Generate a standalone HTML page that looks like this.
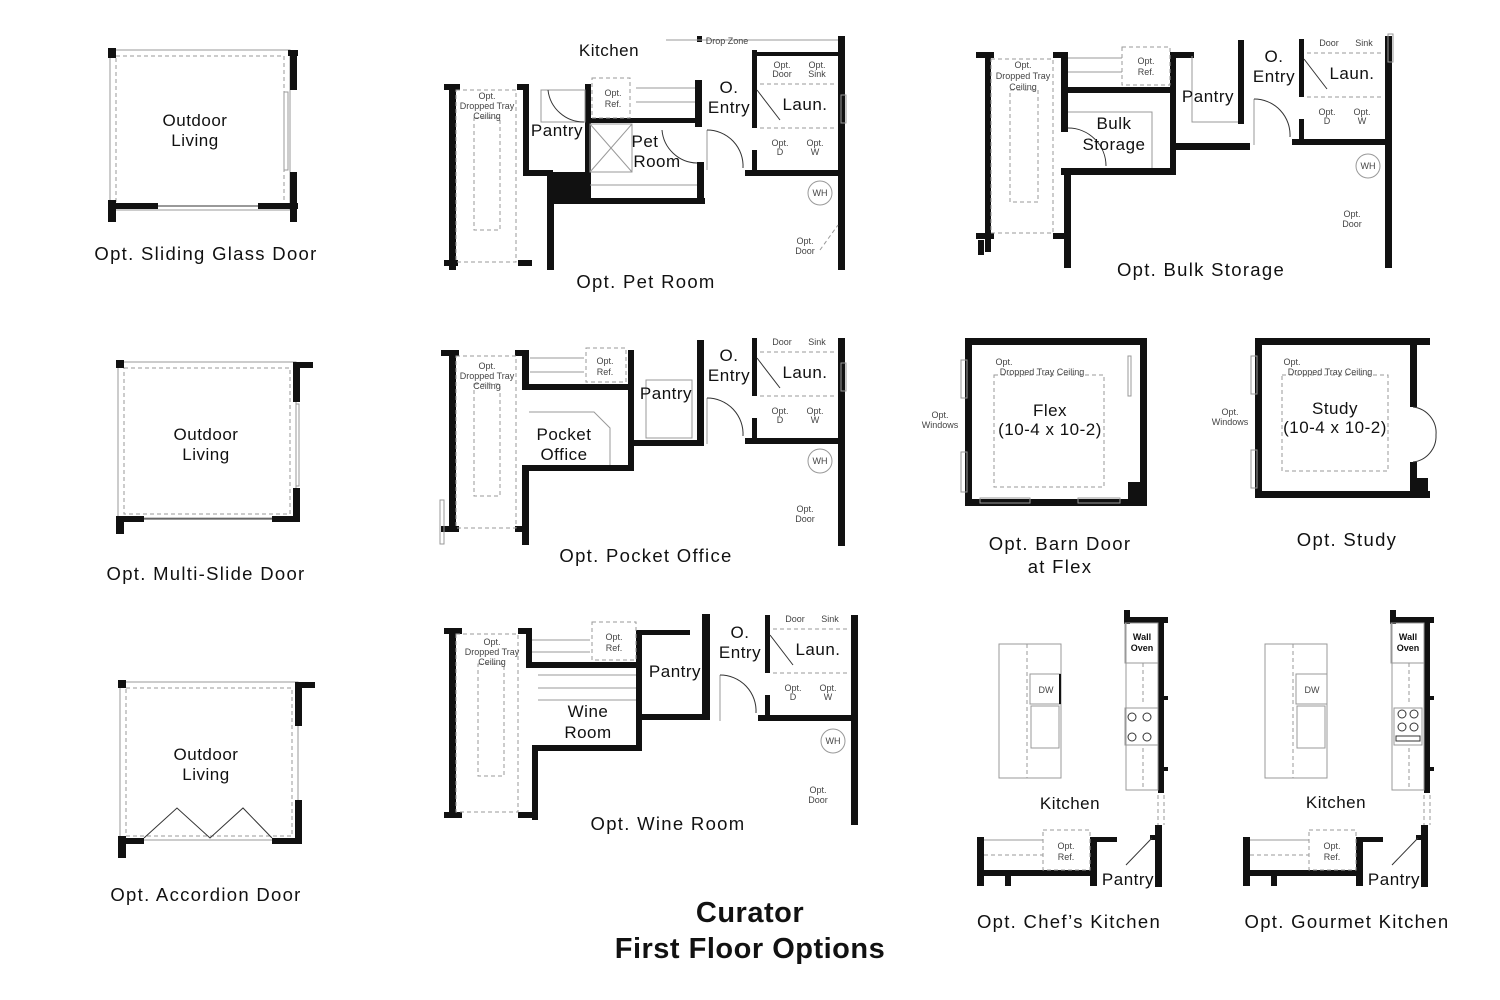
<!DOCTYPE html>
<html><head><meta charset="utf-8"><style>
html,body{margin:0;padding:0;background:#fff;}
svg{display:block;}
text{font-family:"Liberation Sans",sans-serif;fill:#111;text-anchor:middle;}
.cap{font-size:18.5px;letter-spacing:1.3px;}
.rm{font-size:17px;letter-spacing:0.5px;}
.sm{font-size:9px;fill:#444;}
.ttl{font-size:29px;font-weight:bold;letter-spacing:0.5px;}
.w{fill:#111;}
.g{fill:none;stroke:#999;stroke-width:1;}
.d{fill:none;stroke:#999;stroke-width:1;stroke-dasharray:4,3;}
.t{fill:none;stroke:#333;stroke-width:1;}
</style></head><body>
<svg width="1500" height="1000" viewBox="0 0 1500 1000" xmlns="http://www.w3.org/2000/svg">
<!-- Outdoor living 1 -->
<g>
<rect class="g" x="110" y="50" width="180" height="160"/>
<rect class="d" x="116" y="56" width="168" height="150"/>
<rect class="w" x="108" y="48" width="8" height="10"/>
<rect class="w" x="108" y="200" width="8" height="22"/>
<rect class="w" x="108" y="203" width="50" height="6"/>
<rect class="w" x="258" y="203" width="40" height="6"/>
<rect class="w" x="288" y="50" width="10" height="6"/>
<rect class="w" x="290" y="50" width="7" height="40"/>
<rect class="w" x="290" y="172" width="7" height="50"/>
<rect class="g" x="284" y="92" width="4" height="78"/>
<line class="t" x1="158" y1="206" x2="258" y2="206"/>
<text class="rm" x="195" y="126">Outdoor</text><text class="rm" x="195" y="146">Living</text>
<text class="cap" x="206" y="260">Opt. Sliding Glass Door</text>
</g>
<!-- Outdoor living 2 -->
<g>
<rect class="g" x="118" y="362" width="178" height="156"/>
<rect class="d" x="124" y="368" width="166" height="146"/>
<rect class="w" x="116" y="360" width="8" height="8"/>
<rect class="w" x="116" y="516" width="8" height="18"/>
<rect class="w" x="116" y="516" width="28" height="6"/>
<rect class="w" x="272" y="516" width="26" height="6"/>
<rect class="w" x="293" y="362" width="7" height="40"/>
<rect class="w" x="293" y="488" width="7" height="34"/>
<rect class="w" x="293" y="362" width="20" height="6"/>
<line class="t" x1="144" y1="519" x2="272" y2="519"/>
<rect class="g" x="296" y="404" width="3" height="82"/>
<text class="rm" x="206" y="440">Outdoor</text><text class="rm" x="206" y="460">Living</text>
<text class="cap" x="206" y="580">Opt. Multi-Slide Door</text>
</g>
<!-- Outdoor living 3 -->
<g>
<rect class="g" x="120" y="682" width="178" height="158"/>
<rect class="d" x="126" y="688" width="166" height="148"/>
<rect class="w" x="118" y="680" width="8" height="8"/>
<rect class="w" x="118" y="836" width="8" height="22"/>
<rect class="w" x="118" y="838" width="26" height="6"/>
<rect class="w" x="272" y="838" width="26" height="6"/>
<rect class="w" x="295" y="682" width="7" height="44"/>
<rect class="w" x="295" y="800" width="7" height="44"/>
<rect class="w" x="295" y="682" width="20" height="6"/>
<polyline class="t" points="144,838 177,808 210,838 243,808 272,838"/>
<text class="rm" x="206" y="760">Outdoor</text><text class="rm" x="206" y="780">Living</text>
<text class="cap" x="206" y="901">Opt. Accordion Door</text>
</g>

<!-- Pet Room plan -->
<g>
<rect class="w" x="444" y="84" width="16" height="6"/>
<rect class="w" x="517" y="84" width="12" height="6"/>
<rect class="w" x="449" y="84" width="7" height="186"/>
<rect class="w" x="523" y="84" width="6" height="92"/>
<rect class="w" x="523" y="170" width="30" height="6"/>
<rect class="w" x="547" y="172" width="7" height="98"/>
<rect class="w" x="444" y="260" width="14" height="6"/>
<rect class="w" x="518" y="260" width="14" height="6"/>
<rect class="w" x="585" y="84" width="6" height="90"/>
<rect class="w" x="547" y="172" width="44" height="30"/>
<rect class="w" x="547" y="198" width="158" height="6"/>
<rect class="w" x="697" y="162" width="7" height="42"/>
<rect class="w" x="588" y="118" width="114" height="5"/>
<rect class="w" x="695" y="80" width="7" height="47"/>
<rect class="w" x="697" y="36" width="5" height="6"/>
<rect class="d" x="456" y="90" width="60" height="172"/>
<rect class="d" x="474" y="118" width="26" height="112"/>
<rect class="g" x="541" y="90" width="44" height="32"/>
<rect class="d" x="592" y="78" width="38" height="40"/>
<line class="g" x1="636" y1="88" x2="695" y2="88"/><line class="g" x1="636" y1="102" x2="695" y2="102"/>
<rect class="g" x="590" y="124" width="42" height="48"/>
<line class="g" x1="590" y1="124" x2="632" y2="172"/><line class="g" x1="632" y1="124" x2="590" y2="172"/>
<line class="g" x1="590" y1="185" x2="697" y2="185"/>
<line class="g" x1="666" y1="40" x2="840" y2="40"/>
<text class="sm" x="727" y="44">Drop Zone</text>
<text class="rm" x="609" y="56">Kitchen</text>
<text class="sm" x="487" y="99">Opt.</text><text class="sm" x="487" y="109">Dropped Tray</text><text class="sm" x="487" y="119">Ceiling</text>
<text class="sm" x="613" y="96">Opt.</text><text class="sm" x="613" y="107">Ref.</text>
<text class="rm" x="557" y="136">Pantry</text>
<text class="rm" x="645" y="147">Pet</text><text class="rm" x="657" y="167">Room</text>
<path class="t" d="M548,90 A36,36 0 0 0 584,122"/>
<path class="t" d="M662,130 A36,36 0 0 0 697,163"/>
<text class="cap" x="646" y="288">Opt. Pet Room</text>
</g>
<g>
<rect class="w" x="752" y="50" width="5" height="78"/>
<rect class="w" x="752" y="52" width="90" height="4"/>
<rect class="w" x="838" y="36" width="7" height="234"/>
<rect class="w" x="745" y="170" width="100" height="6"/>
<rect class="w" x="752" y="150" width="5" height="22"/>
<rect class="g" x="841" y="95" width="5" height="28"/>
<line class="g" x1="707" y1="130" x2="707" y2="170"/>
<path class="t" d="M707,130 A36,36 0 0 1 743,168"/>
<line class="t" x1="757" y1="90" x2="780" y2="120"/>
<line class="d" x1="760" y1="84" x2="836" y2="84"/>
<line class="d" x1="760" y1="128" x2="836" y2="128"/>
<text class="rm" x="729" y="93">O.</text><text class="rm" x="729" y="113">Entry</text>
<text class="rm" x="805" y="110">Laun.</text>
<text class="sm" x="782" y="68">Opt.</text><text class="sm" x="782" y="77">Door</text>
<text class="sm" x="817" y="68">Opt.</text><text class="sm" x="817" y="77">Sink</text>
<text class="sm" x="780" y="146">Opt.</text><text class="sm" x="780" y="155">D</text>
<text class="sm" x="815" y="146">Opt.</text><text class="sm" x="815" y="155">W</text>
<circle class="g" cx="820" cy="193" r="12"/><text class="sm" x="820" y="196">WH</text>
<text class="sm" x="805" y="244">Opt.</text><text class="sm" x="805" y="254">Door</text>
<line class="d" x1="820" y1="250" x2="838" y2="225"/>
</g>

<!-- Pocket office plan -->
<g>
<rect class="w" x="441" y="350" width="18" height="6"/>
<rect class="w" x="515" y="350" width="14" height="6"/>
<rect class="w" x="449" y="350" width="7" height="180"/>
<rect class="w" x="522" y="350" width="7" height="40"/>
<rect class="w" x="522" y="384" width="112" height="6"/>
<rect class="w" x="628" y="350" width="6" height="120"/>
<rect class="w" x="522" y="465" width="112" height="6"/>
<rect class="w" x="522" y="465" width="7" height="80"/>
<rect class="w" x="441" y="526" width="18" height="6"/>
<rect class="w" x="515" y="526" width="14" height="6"/>
<rect class="w" x="697" y="340" width="7" height="106"/>
<rect class="w" x="634" y="440" width="70" height="6"/>
<rect class="d" x="456" y="356" width="60" height="172"/>
<rect class="d" x="474" y="384" width="26" height="112"/>
<rect class="d" x="586" y="348" width="40" height="34"/>
<line class="g" x1="530" y1="358" x2="584" y2="358"/><line class="g" x1="530" y1="372" x2="584" y2="372"/>
<polyline class="g" points="529,412 594,412 610,428 610,465"/>
<rect class="g" x="646" y="380" width="46" height="58"/>
<rect class="g" x="440" y="500" width="4" height="44"/>
<text class="sm" x="487" y="369">Opt.</text><text class="sm" x="487" y="379">Dropped Tray</text><text class="sm" x="487" y="389">Ceiling</text>
<text class="sm" x="605" y="364">Opt.</text><text class="sm" x="605" y="375">Ref.</text>
<text class="rm" x="564" y="440">Pocket</text><text class="rm" x="564" y="460">Office</text>
<text class="rm" x="666" y="399">Pantry</text>
<text class="cap" x="646" y="562">Opt. Pocket Office</text>
</g>
<g transform="translate(0,268)">
<rect class="w" x="752" y="70" width="5" height="58"/>
<rect class="w" x="838" y="70" width="7" height="208"/>
<rect class="w" x="745" y="170" width="100" height="6"/>
<rect class="w" x="752" y="150" width="5" height="22"/>
<rect class="g" x="841" y="95" width="5" height="28"/>
<line class="g" x1="707" y1="130" x2="707" y2="176"/>
<path class="t" d="M707,130 A36,36 0 0 1 743,168"/>
<line class="t" x1="757" y1="90" x2="780" y2="120"/>
<line class="d" x1="760" y1="84" x2="836" y2="84"/>
<line class="d" x1="760" y1="128" x2="836" y2="128"/>
<text class="rm" x="729" y="93">O.</text><text class="rm" x="729" y="113">Entry</text>
<text class="rm" x="805" y="110">Laun.</text>
<text class="sm" x="782" y="77">Door</text><text class="sm" x="817" y="77">Sink</text>
<text class="sm" x="780" y="146">Opt.</text><text class="sm" x="780" y="155">D</text>
<text class="sm" x="815" y="146">Opt.</text><text class="sm" x="815" y="155">W</text>
<circle class="g" cx="820" cy="193" r="12"/><text class="sm" x="820" y="196">WH</text>
<text class="sm" x="805" y="244">Opt.</text><text class="sm" x="805" y="254">Door</text>
</g>

<!-- Wine room plan -->
<g>
<rect class="w" x="444" y="628" width="18" height="6"/>
<rect class="w" x="518" y="628" width="14" height="6"/>
<rect class="w" x="449" y="628" width="7" height="190"/>
<rect class="w" x="526" y="628" width="6" height="40"/>
<rect class="w" x="526" y="662" width="116" height="6"/>
<rect class="w" x="636" y="630" width="6" height="90"/>
<rect class="w" x="636" y="714" width="72" height="6"/>
<rect class="w" x="532" y="745" width="110" height="6"/>
<rect class="w" x="636" y="715" width="6" height="36"/>
<rect class="w" x="532" y="745" width="6" height="75"/>
<rect class="w" x="444" y="812" width="18" height="6"/>
<rect class="w" x="518" y="812" width="14" height="6"/>
<rect class="w" x="702" y="614" width="8" height="106"/>
<rect class="w" x="640" y="630" width="50" height="5"/>
<rect class="d" x="456" y="634" width="62" height="178"/>
<rect class="d" x="478" y="664" width="26" height="112"/>
<rect class="d" x="592" y="622" width="44" height="38"/>
<line class="g" x1="532" y1="640" x2="590" y2="640"/><line class="g" x1="532" y1="652" x2="590" y2="652"/>
<line class="g" x1="538" y1="675" x2="636" y2="675"/><line class="g" x1="538" y1="688" x2="636" y2="688"/><line class="g" x1="538" y1="700" x2="636" y2="700"/>
<text class="sm" x="492" y="645">Opt.</text><text class="sm" x="492" y="655">Dropped Tray</text><text class="sm" x="492" y="665">Ceiling</text>
<text class="sm" x="614" y="640">Opt.</text><text class="sm" x="614" y="651">Ref.</text>
<text class="rm" x="588" y="717">Wine</text><text class="rm" x="588" y="738">Room</text>
<text class="rm" x="675" y="677">Pantry</text>
<text class="cap" x="668" y="830">Opt. Wine Room</text>
</g>
<g transform="translate(13,545)">
<rect class="w" x="752" y="70" width="5" height="58"/>
<rect class="w" x="838" y="70" width="7" height="210"/>
<rect class="w" x="745" y="170" width="100" height="6"/>
<rect class="w" x="752" y="150" width="5" height="22"/>
<line class="g" x1="707" y1="130" x2="707" y2="176"/>
<path class="t" d="M707,130 A36,36 0 0 1 743,168"/>
<line class="t" x1="757" y1="90" x2="780" y2="120"/>
<line class="d" x1="760" y1="84" x2="836" y2="84"/>
<line class="d" x1="760" y1="128" x2="836" y2="128"/>
<text class="rm" x="727" y="93">O.</text><text class="rm" x="727" y="113">Entry</text>
<text class="rm" x="805" y="110">Laun.</text>
<text class="sm" x="782" y="77">Door</text><text class="sm" x="817" y="77">Sink</text>
<text class="sm" x="780" y="146">Opt.</text><text class="sm" x="780" y="155">D</text>
<text class="sm" x="815" y="146">Opt.</text><text class="sm" x="815" y="155">W</text>
<circle class="g" cx="820" cy="196" r="12"/><text class="sm" x="820" y="199">WH</text>
<text class="sm" x="805" y="248">Opt.</text><text class="sm" x="805" y="258">Door</text>
</g>

<!-- Bulk storage plan -->
<g>
<rect class="w" x="976" y="52" width="18" height="6"/>
<rect class="w" x="1053" y="52" width="14" height="6"/>
<rect class="w" x="985" y="52" width="6" height="200"/>
<rect class="w" x="1061" y="52" width="7" height="80"/>
<rect class="w" x="1061" y="87" width="114" height="6"/>
<rect class="w" x="1170" y="52" width="6" height="120"/>
<rect class="w" x="1170" y="52" width="24" height="6"/>
<rect class="w" x="1238" y="40" width="6" height="84"/>
<rect class="w" x="1061" y="168" width="115" height="7"/>
<rect class="w" x="1064" y="168" width="7" height="100"/>
<rect class="w" x="1170" y="143" width="80" height="7"/>
<rect class="w" x="976" y="233" width="18" height="6"/>
<rect class="w" x="1053" y="233" width="14" height="6"/>
<rect class="w" x="978" y="240" width="6" height="15"/>
<rect class="d" x="991" y="59" width="62" height="174"/>
<rect class="d" x="1010" y="90" width="28" height="112"/>
<rect class="d" x="1122" y="47" width="48" height="38"/>
<line class="g" x1="1068" y1="58" x2="1122" y2="58"/><line class="g" x1="1068" y1="72" x2="1122" y2="72"/>
<polyline class="g" points="1068,112 1152,112 1152,168"/>
<polyline class="g" points="1192,56 1192,122 1238,122"/>
<path class="t" d="M1068,128 A38,38 0 0 1 1106,166"/>
<text class="sm" x="1023" y="68">Opt.</text><text class="sm" x="1023" y="79">Dropped Tray</text><text class="sm" x="1023" y="90">Ceiling</text>
<text class="sm" x="1146" y="64">Opt.</text><text class="sm" x="1146" y="75">Ref.</text>
<text class="rm" x="1114" y="129">Bulk</text><text class="rm" x="1114" y="150">Storage</text>
<text class="rm" x="1208" y="102">Pantry</text>
<text class="cap" x="1201" y="276">Opt. Bulk Storage</text>
</g>
<g transform="translate(547,-31)">
<rect class="w" x="752" y="70" width="5" height="58"/>
<rect class="w" x="838" y="67" width="7" height="232"/>
<rect class="w" x="745" y="170" width="100" height="6"/>
<rect class="w" x="752" y="150" width="5" height="22"/>
<rect class="g" x="841" y="65" width="5" height="28"/>
<line class="g" x1="707" y1="130" x2="707" y2="176"/>
<path class="t" d="M707,130 A36,36 0 0 1 743,168"/>
<line class="t" x1="757" y1="90" x2="780" y2="120"/>
<line class="d" x1="760" y1="84" x2="836" y2="84"/>
<line class="d" x1="760" y1="128" x2="836" y2="128"/>
<text class="rm" x="727" y="93">O.</text><text class="rm" x="727" y="113">Entry</text>
<text class="rm" x="805" y="110">Laun.</text>
<text class="sm" x="782" y="77">Door</text><text class="sm" x="817" y="77">Sink</text>
<text class="sm" x="780" y="146">Opt.</text><text class="sm" x="780" y="155">D</text>
<text class="sm" x="815" y="146">Opt.</text><text class="sm" x="815" y="155">W</text>
<circle class="g" cx="821" cy="197" r="12"/><text class="sm" x="821" y="200">WH</text>
<text class="sm" x="805" y="248">Opt.</text><text class="sm" x="805" y="258">Door</text>
</g>

<!-- Flex -->
<g>
<rect class="w" x="965" y="338" width="7" height="168"/>
<rect class="w" x="965" y="338" width="182" height="7"/>
<rect class="w" x="1140" y="338" width="7" height="168"/>
<rect class="w" x="965" y="499" width="182" height="7"/>
<rect class="w" x="1128" y="482" width="18" height="22"/>
<rect class="g" x="961" y="360" width="6" height="38"/><rect class="g" x="961" y="452" width="6" height="40"/>
<rect class="g" x="980" y="498" width="50" height="5"/><rect class="g" x="1078" y="498" width="42" height="5"/>
<rect class="g" x="1128" y="356" width="3" height="40"/>
<rect class="d" x="994" y="375" width="110" height="112"/>
<text class="sm" x="1004" y="365">Opt.</text><text class="sm" x="1042" y="375">Dropped Tray Ceiling</text>
<text class="sm" x="940" y="418">Opt.</text><text class="sm" x="940" y="428">Windows</text>
<text class="rm" x="1050" y="416">Flex</text><text class="rm" x="1050" y="435">(10-4 x 10-2)</text>
<text class="cap" x="1060" y="550">Opt. Barn Door</text><text class="cap" x="1060" y="573">at Flex</text>
</g>
<!-- Study -->
<g>
<rect class="w" x="1255" y="338" width="7" height="160"/>
<rect class="w" x="1255" y="338" width="175" height="7"/>
<rect class="w" x="1410" y="345" width="7" height="62"/>
<rect class="w" x="1410" y="462" width="7" height="36"/>
<rect class="w" x="1255" y="491" width="175" height="7"/>
<rect class="w" x="1410" y="478" width="18" height="20"/>
<rect class="g" x="1251" y="356" width="6" height="38"/><rect class="g" x="1251" y="450" width="6" height="38"/>
<path class="t" d="M1413,407 A26,26 0 0 1 1436,435 M1413,462 A26,26 0 0 0 1436,435"/>
<rect class="d" x="1282" y="375" width="106" height="96"/>
<text class="sm" x="1292" y="365">Opt.</text><text class="sm" x="1330" y="375">Dropped Tray Ceiling</text>
<text class="sm" x="1230" y="415">Opt.</text><text class="sm" x="1230" y="425">Windows</text>
<text class="rm" x="1335" y="414">Study</text><text class="rm" x="1335" y="433">(10-4 x 10-2)</text>
<text class="cap" x="1347" y="546">Opt. Study</text>
</g>

<!-- Chef's kitchen -->
<g>
<rect class="g" x="999" y="644" width="62" height="134"/>
<line class="d" x1="1027" y1="644" x2="1027" y2="778"/>
<rect class="g" x="1030" y="674" width="31" height="30"/>
<rect class="g" x="1031" y="706" width="28" height="42"/>
<rect class="w" x="1059" y="674" width="2" height="30"/>
<text class="sm" x="1046" y="693">DW</text>
<rect class="w" x="1124" y="610" width="6" height="14"/>
<rect class="w" x="1124" y="617" width="44" height="6"/>
<rect class="w" x="1158" y="617" width="6" height="176"/>
<rect class="w" x="1158" y="696" width="10" height="4"/><rect class="w" x="1158" y="767" width="10" height="4"/>
<rect class="g" x="1126" y="623" width="32" height="167"/>
<rect class="g" x="1125" y="623" width="33" height="40"/>
<text class="sm" x="1142" y="640" style="font-weight:bold;fill:#111">Wall</text><text class="sm" x="1142" y="651" style="font-weight:bold;fill:#111">Oven</text>
<rect class="g" x="1125" y="708" width="33" height="37"/>
<circle class="t" cx="1132" cy="717" r="4"/><circle class="t" cx="1147" cy="717" r="4"/><circle class="t" cx="1132" cy="737" r="4"/><circle class="t" cx="1147" cy="737" r="4"/>
<line class="d" x1="1143" y1="663" x2="1143" y2="705"/><line class="d" x1="1143" y1="748" x2="1143" y2="790"/>
<line class="d" x1="1158" y1="795" x2="1158" y2="825"/><line class="d" x1="1164" y1="795" x2="1164" y2="825"/>
<rect class="w" x="1155" y="825" width="7" height="62"/>
<rect class="w" x="1150" y="835" width="8" height="5"/>
<rect class="w" x="977" y="837" width="7" height="49"/>
<rect class="w" x="977" y="870" width="120" height="6"/>
<rect class="w" x="1090" y="837" width="7" height="49"/>
<rect class="w" x="1090" y="837" width="27" height="5"/>
<rect class="w" x="1005" y="873" width="6" height="13"/>
<line class="g" x1="984" y1="840" x2="1043" y2="840"/><line class="d" x1="984" y1="855" x2="1043" y2="855"/>
<rect class="d" x="1043" y="830" width="47" height="40"/>
<line class="t" x1="1126" y1="865" x2="1152" y2="838"/>
<text class="sm" x="1066" y="849">Opt.</text><text class="sm" x="1066" y="860">Ref.</text>
<text class="rm" x="1070" y="809">Kitchen</text>
<text class="rm" x="1128" y="885">Pantry</text>
<text class="cap" x="1069" y="928">Opt. Chef’s Kitchen</text>
</g>
<!-- Gourmet kitchen -->
<g transform="translate(266,0)">
<rect class="g" x="999" y="644" width="62" height="134"/>
<line class="d" x1="1027" y1="644" x2="1027" y2="778"/>
<rect class="g" x="1030" y="674" width="31" height="30"/>
<rect class="g" x="1031" y="706" width="28" height="42"/>
<text class="sm" x="1046" y="693">DW</text>
<rect class="w" x="1124" y="610" width="6" height="14"/>
<rect class="w" x="1124" y="617" width="44" height="6"/>
<rect class="w" x="1158" y="617" width="6" height="176"/>
<rect class="w" x="1158" y="696" width="10" height="4"/><rect class="w" x="1158" y="767" width="10" height="4"/>
<rect class="g" x="1126" y="623" width="32" height="167"/>
<rect class="g" x="1125" y="623" width="33" height="40"/>
<text class="sm" x="1142" y="640" style="font-weight:bold;fill:#111">Wall</text><text class="sm" x="1142" y="651" style="font-weight:bold;fill:#111">Oven</text>
<rect class="g" x="1128" y="708" width="28" height="37"/>
<circle class="t" cx="1136" cy="714" r="4"/><circle class="t" cx="1148" cy="714" r="4"/><circle class="t" cx="1136" cy="727" r="4"/><circle class="t" cx="1148" cy="727" r="4"/>
<rect class="t" x="1130" y="736" width="24" height="5"/>
<line class="d" x1="1143" y1="663" x2="1143" y2="705"/><line class="d" x1="1143" y1="748" x2="1143" y2="790"/>
<line class="d" x1="1158" y1="795" x2="1158" y2="825"/><line class="d" x1="1164" y1="795" x2="1164" y2="825"/>
<rect class="w" x="1155" y="825" width="7" height="62"/>
<rect class="w" x="1150" y="835" width="8" height="5"/>
<rect class="w" x="977" y="837" width="7" height="49"/>
<rect class="w" x="977" y="870" width="120" height="6"/>
<rect class="w" x="1090" y="837" width="7" height="49"/>
<rect class="w" x="1090" y="837" width="27" height="5"/>
<rect class="w" x="1005" y="873" width="6" height="13"/>
<line class="g" x1="984" y1="840" x2="1043" y2="840"/><line class="d" x1="984" y1="855" x2="1043" y2="855"/>
<rect class="d" x="1043" y="830" width="47" height="40"/>
<line class="t" x1="1126" y1="865" x2="1152" y2="838"/>
<text class="sm" x="1066" y="849">Opt.</text><text class="sm" x="1066" y="860">Ref.</text>
<text class="rm" x="1070" y="808">Kitchen</text>
<text class="rm" x="1128" y="885">Pantry</text>
<text class="cap" x="1081" y="928">Opt. Gourmet Kitchen</text>
</g>

<text class="ttl" x="750" y="922">Curator</text>
<text class="ttl" x="750" y="958">First Floor Options</text>
</svg>
</body></html>
